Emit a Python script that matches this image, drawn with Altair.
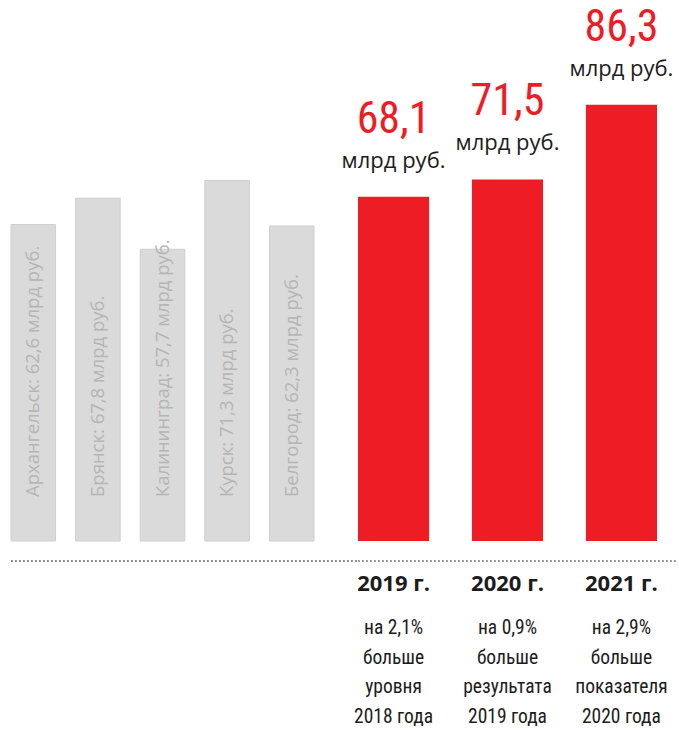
import altair as alt
import pandas as pd

# ---- data ----
regions = ["Архангельск", "Брянск", "Калининград", "Курск", "Белгород"]
region_values = [62.6, 67.8, 57.7, 71.3, 62.3]
region_labels = [
    "Архангельск: 62,6 млрд руб.",
    "Брянск: 67,8 млрд руб.",
    "Калининград: 57,7 млрд руб.",
    "Курск: 71,3 млрд руб.",
    "Белгород: 62,3 млрд руб.",
]

years = ["2019 г.", "2020 г.", "2021 г."]
year_values = [68.1, 71.5, 86.3]
year_value_labels = ["68,1", "71,5", "86,3"]
unit_labels = ["млрд руб.", "млрд руб.", "млрд руб."]
year_notes = [
    "на 2,1%\nбольше\nуровня\n2018 года",
    "на 0,9%\nбольше\nрезультата\n2019 года",
    "на 2,9%\nбольше\nпоказателя\n2020 года",
]

RED = "#ee1c25"
GRAY_BAR = "#dadada"
GRAY_TEXT = "#b5b5b5"
DARK = "#1c1c1c"
NARROW = "'Liberation Sans Narrow', 'Roboto Condensed', Roboto, sans-serif"

left_df = pd.DataFrame({"region": regions, "value": region_values, "label": region_labels})
right_df = pd.DataFrame({
    "year": years,
    "value": year_values,
    "vlabel": year_value_labels,
    "unit": unit_labels,
    "note": year_notes,
})

yscale = alt.Scale(domain=[0, 107], nice=False, zero=True)

# ---- left panel (other regions) ----
xl = alt.X("region:N", sort=regions, axis=None,
           scale=alt.Scale(paddingInner=0.31, paddingOuter=0))
yl = alt.Y("value:Q", axis=None, scale=yscale)

left_bars = alt.Chart(left_df).mark_bar(
    color=GRAY_BAR, stroke="#cfcfcf", strokeWidth=1
).encode(x=xl, y=yl)

left_text = alt.Chart(left_df).mark_text(
    angle=270, align="left", baseline="middle", dx=44,
    font="Open Sans", fontSize=18.5, color=GRAY_TEXT
).encode(x=xl, y=alt.datum(0), text="label:N")

left_rule = alt.Chart(left_df).mark_rule(
    color="#8c8c8c", strokeDash=[1.5, 2.5], strokeWidth=1.5
).encode(x=alt.value(0), x2=alt.value(347), y=alt.value(561))

left = alt.layer(left_bars, left_text, left_rule).properties(width=303, height=541)

# ---- right panel (2019-2021) ----
xr = alt.X("year:N", sort=years, axis=None,
           scale=alt.Scale(paddingInner=0.376, paddingOuter=0))
yr = alt.Y("value:Q", axis=None, scale=yscale)

right_bars = alt.Chart(right_df).mark_bar(color=RED).encode(x=xr, y=yr)

right_values = alt.Chart(right_df).mark_text(
    baseline="alphabetic", dy=-64, font=NARROW, fontSize=44, color=RED
).encode(x=xr, y=yr, text="vlabel:N")

right_units = alt.Chart(right_df).mark_text(
    baseline="alphabetic", dy=-29, font="Open Sans", fontSize=22, color=DARK
).encode(x=xr, y=yr, text="unit:N")

right_years = alt.Chart(right_df).mark_text(
    baseline="middle", dy=43, font="Open Sans", fontSize=22,
    fontWeight="bold", color=DARK
).encode(x=xr, y=alt.datum(0), text="year:N")

right_notes = alt.Chart(right_df).mark_text(
    baseline="top", dy=78, lineBreak="\n", lineHeight=29.5,
    font=NARROW, fontSize=19.5, color=DARK
).encode(x=xr, y=alt.datum(0), text="note:N")

right_rule = alt.Chart(right_df).mark_rule(
    color="#8c8c8c", strokeDash=[1.5, 2.5], strokeWidth=1.5
).encode(x=alt.value(0), x2=alt.value(318), y=alt.value(561))

right = alt.layer(
    right_bars, right_values, right_units, right_years, right_notes, right_rule
).properties(width=299, height=541)

chart = alt.hconcat(left, right, spacing=44, bounds="flush").properties(
    padding={"left": 10, "top": 0, "right": 0, "bottom": 0},
    background="white",
).configure_view(stroke=None)

chart.save("out.html", embed_options={"renderer": "svg", "actions": False})
